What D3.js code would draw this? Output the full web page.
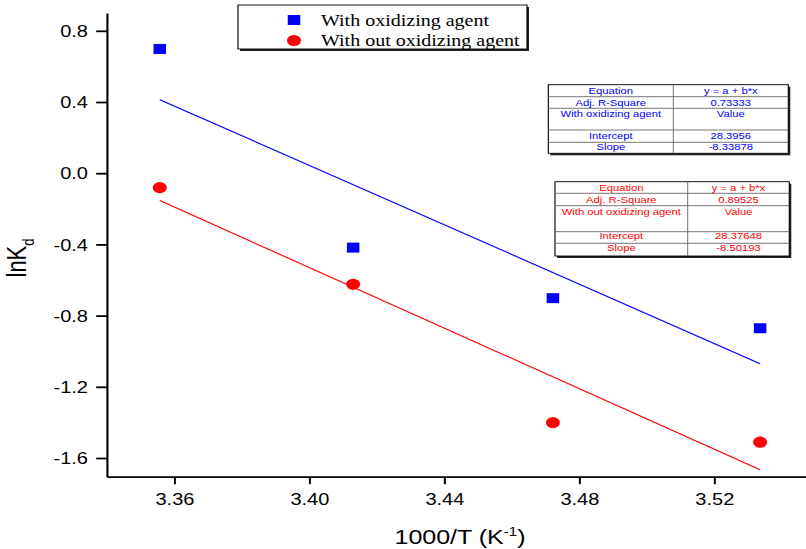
<!DOCTYPE html>
<html>
<head>
<meta charset="utf-8">
<script src="https://cdn.jsdelivr.net/npm/d3@7"></script>
<style>
  html, body { margin: 0; padding: 0; background: #fff; }
  svg { display: block; }
</style>
</head>
<body>
<svg id="chart" width="806" height="549" font-family="Liberation Sans, Arial, sans-serif"></svg>
<script>
// ---------------- data ----------------
const invT = [3.3557, 3.4130, 3.4722, 3.5336];            // 1000/T (K^-1)
const lnKdWithOx = [0.698, -0.418, -0.702, -0.871];         // with oxidizing agent
const lnKdWithoutOx = [-0.081, -0.624, -1.401, -1.511];     // without oxidizing agent
const seriesNames = ["With oxidizing agent", "With out oxidizing agent"];
const seriesColors = ["#0000ff", "#ff0000"];

const fitIntercept = [28.3956, 28.37648];
const fitSlope = [-8.33878, -8.50193];

const xMajorTicks = [3.36, 3.40, 3.44, 3.48, 3.52];
const xMinorTicks = [3.34, 3.38, 3.42, 3.46, 3.50, 3.54];
const yMajorTicks = [-1.6, -1.2, -0.8, -0.4, 0.0, 0.4, 0.8];
const yMinorTicks = [-1.4, -1.0, -0.6, -0.2, 0.2, 0.6];

const tableOx = [
  ["Equation", "y = a + b*x"],
  ["Adj. R-Square", "0.73333"],
  ["With oxidizing agent", "Value"],
  ["Intercept", "28.3956"],
  ["Slope", "-8.33878"]
];
const tableWithoutOx = [
  ["Equation", "y = a + b*x"],
  ["Adj. R-Square", "0.89525"],
  ["With out oxidizing agent", "Value"],
  ["Intercept", "28.37648"],
  ["Slope", "-8.50193"]
];

// ---------------- layout ----------------
const K = 1.25;                 // horizontal stretch of the whole picture
const ix = v => v / K;          // real px -> inner px
const SANS = "Liberation Sans, Arial, sans-serif";
const SERIF = "Liberation Serif, 'Times New Roman', serif";

const svg = d3.select("#chart");
const g = svg.append("g").attr("transform", `scale(${K},1)`);

const plotLeft = 106.8, plotRight = 806, plotTop = 13, plotBottom = 476.7;

const x = d3.scaleLinear().domain([3.34, 3.5472]).range([ix(plotLeft), ix(plotRight)]);
const y = d3.scaleLinear().domain([-1.705, 0.9]).range([plotBottom, plotTop]);

// ---------------- axes ----------------
const xAxisG = g.append("g").attr("transform", `translate(0,${plotBottom})`);
xAxisG.call(d3.axisBottom(x).tickValues(xMinorTicks).tickSize(5).tickSizeOuter(0).tickFormat(""));
xAxisG.call(d3.axisBottom(x).tickValues(xMajorTicks).tickSize(7.5).tickSizeOuter(0)
  .tickFormat(d => d.toFixed(2)));
xAxisG.selectAll("path.domain").attr("stroke", "#000").attr("stroke-width", 1.8);
xAxisG.selectAll(".tick line").attr("stroke", "#000").attr("stroke-width", 1.6);
xAxisG.selectAll(".tick text")
  .attr("y", 505 - plotBottom).attr("dy", 0)
  .attr("fill", "#000")
  .style("font-size", "16px").style("font-family", SANS);

const yAxisG = g.append("g").attr("transform", `translate(${ix(plotLeft)},0)`);
yAxisG.call(d3.axisLeft(y).tickValues(yMinorTicks).tickSize(4).tickSizeOuter(0).tickFormat(""));
yAxisG.call(d3.axisLeft(y).tickValues(yMajorTicks).tickSize(8.5).tickSizeOuter(0)
  .tickFormat(d => d.toFixed(1)));
yAxisG.selectAll("path.domain").attr("stroke", "#000").attr("stroke-width", 1.7);
yAxisG.selectAll(".tick line").attr("stroke", "#000").attr("stroke-width", 1.8);
yAxisG.selectAll(".tick text")
  .attr("x", -(ix(plotLeft) - ix(88))).attr("dy", "0.36em")
  .attr("fill", "#000")
  .style("font-size", "16px").style("font-family", SANS);

// axis titles
const xTitle = g.append("text")
  .attr("x", ix(460)).attr("y", 544)
  .attr("text-anchor", "middle").attr("fill", "#000")
  .style("font-size", "20px").style("font-family", SANS);
xTitle.append("tspan").text("1000/T (K");
xTitle.append("tspan").style("font-size", "12px").attr("dy", -8).text("-1");
xTitle.append("tspan").attr("dy", 8).text(")");

const yTitle = g.append("text")
  .attr("transform", `translate(${ix(26)},258) rotate(-90)`)
  .attr("text-anchor", "middle").attr("fill", "#000")
  .style("font-size", "22px").style("font-family", SANS);
yTitle.append("tspan").text("lnK");
yTitle.append("tspan").style("font-size", "13px").attr("dy", 6).text("d");

// ---------------- fit lines ----------------
const xFit = [invT[0], invT[invT.length - 1]];
[0, 1].forEach(i => {
  const pts = xFit.map(v => [v, fitIntercept[i] + fitSlope[i] * v]);
  g.append("path")
    .attr("d", d3.line().x(d => x(d[0])).y(d => y(d[1]))(pts))
    .attr("fill", "none")
    .attr("stroke", seriesColors[i])
    .attr("stroke-width", 1.1);
});

// ---------------- points ----------------
const sq = 10, cr = 5.6;
g.selectAll("rect.pt").data(invT.map((v, i) => [v, lnKdWithOx[i]])).join("rect")
  .attr("class", "pt")
  .attr("x", d => x(d[0]) - sq / 2).attr("y", d => y(d[1]) - sq / 2)
  .attr("width", sq).attr("height", sq)
  .attr("fill", seriesColors[0]);

g.selectAll("circle.pt").data(invT.map((v, i) => [v, lnKdWithoutOx[i]])).join("circle")
  .attr("class", "pt")
  .attr("cx", d => x(d[0])).attr("cy", d => y(d[1]))
  .attr("r", cr)
  .attr("fill", seriesColors[1]);

// ---------------- legend ----------------
function shadowBox(x0, y0, x1, y1) {
  g.append("rect")
    .attr("x", ix(x0) + 1.6).attr("y", y0 + 2)
    .attr("width", ix(x1) - ix(x0)).attr("height", y1 - y0)
    .attr("fill", "#222");
  g.append("rect")
    .attr("x", ix(x0)).attr("y", y0)
    .attr("width", ix(x1) - ix(x0)).attr("height", y1 - y0)
    .attr("fill", "#fff").attr("stroke", "#000").attr("stroke-width", 0.9);
}

shadowBox(238, 5, 527, 49);
g.append("rect")
  .attr("x", ix(294) - sq / 2).attr("y", 20 - sq / 2)
  .attr("width", sq).attr("height", sq).attr("fill", seriesColors[0]);
g.append("circle")
  .attr("cx", ix(294)).attr("cy", 40.5).attr("r", cr).attr("fill", seriesColors[1]);
[26.5, 46].forEach((by, i) => {
  g.append("text")
    .attr("x", ix(321)).attr("y", by)
    .attr("fill", "#000")
    .style("font-family", SERIF).style("font-size", "16px")
    .text(seriesNames[i]);
});

// ---------------- fit tables ----------------
function drawTable(rows, color, left, right, colX, rowLines, baselines) {
  shadowBox(left, rowLines[0], right, rowLines[rowLines.length - 1]);
  rowLines.slice(1, -1).forEach(ry => {
    g.append("line")
      .attr("x1", ix(left)).attr("x2", ix(right))
      .attr("y1", ry).attr("y2", ry)
      .attr("stroke", "#666").attr("stroke-width", 0.8);
  });
  g.append("line")
    .attr("x1", ix(colX)).attr("x2", ix(colX))
    .attr("y1", rowLines[0]).attr("y2", rowLines[rowLines.length - 1])
    .attr("stroke", "#666").attr("stroke-width", 0.8);
  const c1 = (ix(left) + ix(colX)) / 2, c2 = (ix(colX) + ix(right)) / 2;
  rows.forEach((r, i) => {
    g.append("text").attr("x", c1).attr("y", baselines[i])
      .attr("text-anchor", "middle").attr("fill", color)
      .style("font-size", "9px").style("font-family", SANS).text(r[0]);
    g.append("text").attr("x", c2).attr("y", baselines[i])
      .attr("text-anchor", "middle").attr("fill", color)
      .style("font-size", "9px").style("font-family", SANS).text(r[1]);
  });
}

drawTable(tableOx, seriesColors[0], 548.3, 788.3, 673.3,
  [84.7, 96.7, 108.3, 130, 142.3, 153.3],
  [94, 105.8, 116.7, 138.6, 150.3]);

drawTable(tableWithoutOx, seriesColors[1], 555, 789.3, 687.7,
  [181.7, 193.3, 205.7, 231.7, 243.3, 256],
  [191.3, 203, 215.5, 239.5, 251.5]);
</script>
</body>
</html>
